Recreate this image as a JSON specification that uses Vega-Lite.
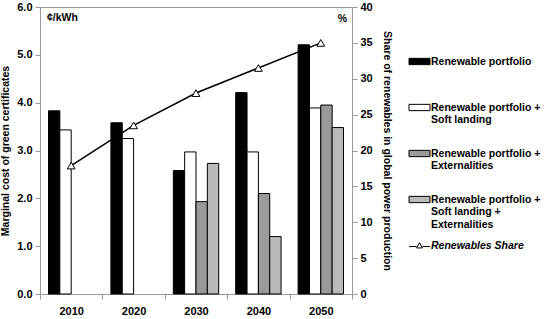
{
  "$schema": "https://vega.github.io/schema/vega-lite/v6.json",
  "width": 312,
  "height": 287,
  "padding": {"left": 0, "top": 1, "right": 0, "bottom": 0},
  "background": "white",
  "config": {
    "font": "Liberation Sans",
    "view": {"stroke": "#9a9a9a", "strokeWidth": 1},
    "axis": {
      "domainColor": "#9a9a9a", "tickColor": "#9a9a9a", "grid": false,
      "labelFont": "Liberation Sans", "labelFontWeight": "bold", "labelFontSize": 11, "labelColor": "black",
      "titleFont": "Liberation Sans", "titleFontWeight": "bold", "titleFontSize": 10.5, "titleColor": "black",
      "tickSize": 5, "labelOverlap": false
    },
    "legend": {
      "labelFont": "Liberation Sans", "labelFontWeight": "bold", "labelFontSize": 10.5, "labelColor": "black"
    }
  },
  "datasets": {
    "bars": [
      {"year": "2010", "series": "Renewable portfolio", "cost": 3.83},
      {"year": "2010", "series": "Renewable portfolio + Soft landing", "cost": 3.43},
      {"year": "2020", "series": "Renewable portfolio", "cost": 3.58},
      {"year": "2020", "series": "Renewable portfolio + Soft landing", "cost": 3.25},
      {"year": "2030", "series": "Renewable portfolio", "cost": 2.58},
      {"year": "2030", "series": "Renewable portfolio + Soft landing", "cost": 2.97},
      {"year": "2030", "series": "Renewable portfolio + Externalities", "cost": 1.93},
      {"year": "2030", "series": "Renewable portfolio + Soft landing + Externalities", "cost": 2.73},
      {"year": "2040", "series": "Renewable portfolio", "cost": 4.21},
      {"year": "2040", "series": "Renewable portfolio + Soft landing", "cost": 2.97},
      {"year": "2040", "series": "Renewable portfolio + Externalities", "cost": 2.1},
      {"year": "2040", "series": "Renewable portfolio + Soft landing + Externalities", "cost": 1.2},
      {"year": "2050", "series": "Renewable portfolio", "cost": 5.21},
      {"year": "2050", "series": "Renewable portfolio + Soft landing", "cost": 3.89},
      {"year": "2050", "series": "Renewable portfolio + Externalities", "cost": 3.95},
      {"year": "2050", "series": "Renewable portfolio + Soft landing + Externalities", "cost": 3.48}
    ],
    "share": [
      {"year": "2010", "share": 17.9},
      {"year": "2020", "share": 23.5},
      {"year": "2030", "share": 28.0},
      {"year": "2040", "share": 31.5},
      {"year": "2050", "share": 35.0}
    ]
  },
  "layer": [
    {
      "layer": [
        {
          "data": {"name": "bars"},
          "mark": {"type": "bar", "stroke": "black", "strokeWidth": 1},
          "encoding": {
            "x": {
              "field": "year", "type": "nominal",
              "scale": {"paddingInner": 0, "paddingOuter": 0},
              "axis": {"title": null, "labelAngle": 0, "tickBand": "extent", "labelPadding": 6}
            },
            "xOffset": {
              "field": "series", "type": "nominal",
              "scale": {
                "domain": ["Renewable portfolio", "Renewable portfolio + Soft landing", "Renewable portfolio + Externalities", "Renewable portfolio + Soft landing + Externalities"],
                "paddingInner": 0, "paddingOuter": 0.75
              }
            },
            "y": {
              "field": "cost", "type": "quantitative",
              "scale": {"domain": [0, 6], "nice": false},
              "axis": {"title": "Marginal cost of green certificates", "format": ".1f", "values": [0, 1, 2, 3, 4, 5, 6], "labelPadding": 3, "titlePadding": 6}
            },
            "fill": {
              "field": "series", "type": "nominal",
              "scale": {
                "domain": ["Renewable portfolio", "Renewable portfolio + Soft landing", "Renewable portfolio + Externalities", "Renewable portfolio + Soft landing + Externalities", "Renewables Share"],
                "range": ["black", "white", "#9a9a9a", "#bababa", "white"]
              },
              "legend": {
                "title": null,
                "orient": "none",
                "legendX": 372,
                "legendY": 47,
                "symbolType": "M-1.5,-0.45H1.5V0.45H-1.5Z",
                "symbolSize": 196,
                "symbolStrokeColor": "black",
                "symbolStrokeWidth": 1,
                "labelOffset": 4,
                "labelLimit": 200,
                "labelBaseline": "top",
                "rowPadding": 8,
                "labelExpr": "datum.value == 'Renewable portfolio' ? ['Renewable portfolio', '', ''] : datum.value == 'Renewable portfolio + Soft landing' ? ['Renewable portfolio +', 'Soft landing', ''] : datum.value == 'Renewable portfolio + Externalities' ? ['Renewable portfolio +', 'Externalities', ''] : datum.value == 'Renewables Share' ? ['Renewables Share'] : ['Renewable portfolio +', 'Soft landing +', 'Externalities']",
                "encode": {
                  "symbols": {"update": {"shape": {"signal": "datum.value == 'Renewables Share' ? 'M-1.5,0.15H-0.42M0.42,0.15H1.5M-0.42,0.35L0,-0.4L0.42,0.35Z' : 'M-1.5,-0.45H1.5V0.45H-1.5Z'"}}},
                  "labels": {"update": {"dy": {"value": -5}, "fontStyle": {"signal": "datum.value == 'Renewables Share' ? 'italic' : 'normal'"}}}
                }
              }
            }
          }
        },
        {
          "data": {"values": [{"label": "¢/kWh"}]},
          "mark": {"type": "text", "align": "left", "baseline": "middle", "dx": 7, "fontWeight": "bold", "fontSize": 10.5},
          "encoding": {
            "x": {"datum": "2010", "bandPosition": 0},
            "y": {"datum": 5.77},
            "text": {"field": "label"}
          }
        },
        {
          "data": {"values": [{"label": "%"}]},
          "mark": {"type": "text", "align": "right", "baseline": "middle", "dx": -5, "fontWeight": "bold", "fontSize": 10.5},
          "encoding": {
            "x": {"datum": "2050", "bandPosition": 1},
            "y": {"datum": 5.74},
            "text": {"field": "label"}
          }
        }
      ]
    },
    {
      "data": {"name": "share"},
      "layer": [
        {
          "mark": {"type": "line", "color": "black", "strokeWidth": 1.6},
          "encoding": {
            "x": {"field": "year", "type": "nominal"},
            "y": {
              "field": "share", "type": "quantitative",
              "scale": {"domain": [0, 40], "nice": false},
              "axis": {"title": "Share of renewables in global power production", "orient": "right", "values": [0, 5, 10, 15, 20, 25, 30, 35, 40], "labelOverlap": false, "titleAngle": 90, "labelPadding": 3, "titlePadding": 9}
            }
          }
        },
        {
          "mark": {"type": "point", "shape": "triangle-up", "filled": true, "fill": "white", "stroke": "black", "strokeWidth": 1, "size": 60, "opacity": 1},
          "encoding": {
            "x": {"field": "year", "type": "nominal"},
            "y": {"field": "share", "type": "quantitative", "axis": {"title": "Share of renewables in global power production", "orient": "right", "values": [0, 5, 10, 15, 20, 25, 30, 35, 40], "labelOverlap": false, "titleAngle": 90, "labelPadding": 3, "titlePadding": 9}}
          }
        }
      ]
    }
  ],
  "resolve": {"scale": {"y": "independent"}}
}
